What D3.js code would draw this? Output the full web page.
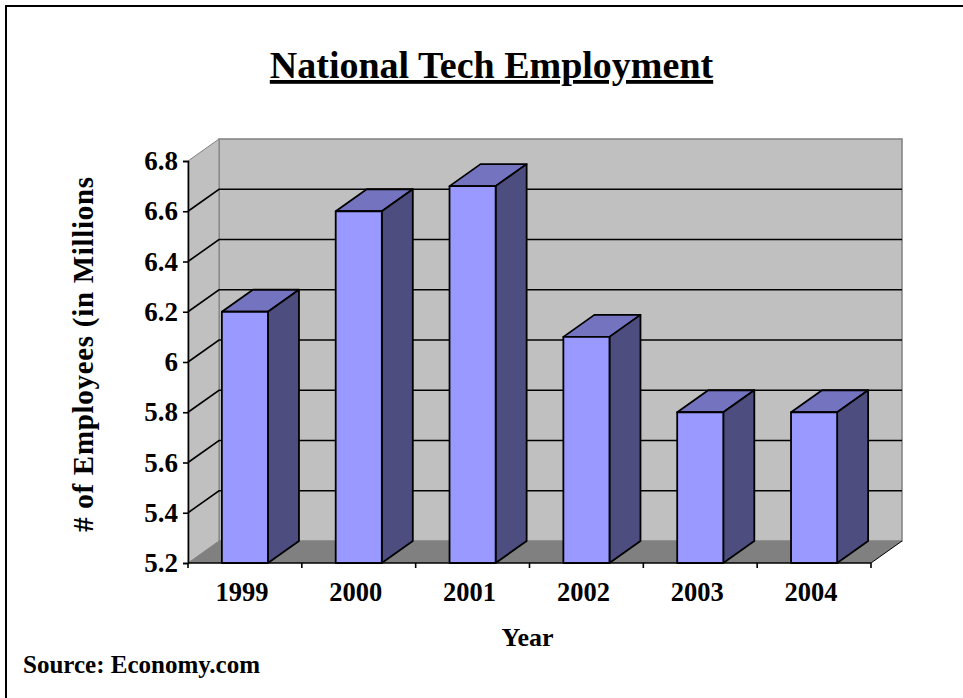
<!DOCTYPE html>
<html>
<head>
<meta charset="utf-8">
<script src="https://cdn.jsdelivr.net/npm/d3@7/dist/d3.min.js"></script>
<style>
html, body { margin: 0; padding: 0; background: #fff; }
svg { display: block; }
text { font-family: "Liberation Serif", "Times New Roman", serif; font-weight: bold; fill: #000; }
</style>
</head>
<body>
<svg id="chart" width="963" height="698"></svg>
<script>
const years = ["1999", "2000", "2001", "2002", "2003", "2004"];
const employees = [6.2, 6.6, 6.7, 6.1, 5.8, 5.8];
const yTicks = [5.2, 5.4, 5.6, 5.8, 6, 6.2, 6.4, 6.6, 6.8];

const svg = d3.select("#chart");
const width = 963, height = 698;

// Page frame: only the top and left edges fall inside the graphic
svg.append("path").attr("d", `M6,${height} V6 H${width}`)
  .attr("fill", "none").attr("stroke", "#000").attr("stroke-width", 2);

// Front plane of the 3D box, plus the receding depth offset
const plotLeft = 188, plotRight = 871, plotBottom = 563, plotTop = 161;
const depthX = 31, depthY = -22;

const x = d3.scaleBand().domain(years).range([plotLeft, plotRight]).paddingInner(0.595).paddingOuter(0.2975);
const y = d3.scaleLinear().domain([5.2, 6.8]).range([plotBottom, plotTop]);
const poly = pts => pts.map(p => p.join(",")).join(" ");

const plot = svg.append("g");

// Back wall
plot.append("rect")
  .attr("x", plotLeft + depthX).attr("y", plotTop + depthY)
  .attr("width", plotRight - plotLeft).attr("height", plotBottom - plotTop)
  .attr("fill", "#c0c0c0").attr("stroke", "#808080").attr("stroke-width", 1.5);

// Left side wall
plot.append("polygon")
  .attr("points", poly([[plotLeft, plotTop], [plotLeft + depthX, plotTop + depthY], [plotLeft + depthX, plotBottom + depthY], [plotLeft, plotBottom]]))
  .attr("fill", "#c0c0c0").attr("stroke", "#808080").attr("stroke-width", 1);

// Floor
plot.append("polygon")
  .attr("points", poly([[plotLeft, plotBottom], [plotLeft + depthX, plotBottom + depthY], [plotRight + depthX, plotBottom + depthY], [plotRight, plotBottom]]))
  .attr("fill", "#808080");

// Gridlines running across the side wall and along the back wall
plot.append("g").selectAll("polyline").data(yTicks.slice(1, -1)).join("polyline")
  .attr("points", d => poly([[plotLeft, y(d)], [plotLeft + depthX, y(d) + depthY], [plotRight + depthX, y(d) + depthY]]))
  .attr("fill", "none").attr("stroke", "#000").attr("stroke-width", 1.6);

// Receding floor edge on the right
plot.append("polyline")
  .attr("points", poly([[plotRight, plotBottom], [plotRight + depthX, plotBottom + depthY]]))
  .attr("stroke", "#000").attr("stroke-width", 1).attr("fill", "none");

// Bars: top face, side face, front face
const bars = plot.append("g").selectAll("g").data(years.map((year, i) => ({ year, value: employees[i] }))).join("g");
const barStroke = sel => sel.attr("stroke", "#000").attr("stroke-width", 1.8).attr("stroke-linejoin", "round");

bars.append("polygon")
  .attr("points", d => {
    const x0 = x(d.year), x1 = x0 + x.bandwidth(), t = y(d.value);
    return poly([[x0, t], [x0 + depthX, t + depthY], [x1 + depthX, t + depthY], [x1, t]]);
  })
  .attr("fill", "#7373bf").call(barStroke);

bars.append("polygon")
  .attr("points", d => {
    const x1 = x(d.year) + x.bandwidth(), t = y(d.value);
    return poly([[x1, t], [x1 + depthX, t + depthY], [x1 + depthX, plotBottom + depthY], [x1, plotBottom]]);
  })
  .attr("fill", "#4d4d80").call(barStroke);

bars.append("rect")
  .attr("x", d => x(d.year)).attr("y", d => y(d.value))
  .attr("width", x.bandwidth()).attr("height", d => plotBottom - y(d.value))
  .attr("fill", "#9999ff").call(barStroke);

// Value axis
const yAxis = d3.axisLeft(y).tickValues(yTicks).tickFormat(d3.format("~g")).tickSize(5).tickPadding(5);
const yG = svg.append("g").attr("transform", `translate(${plotLeft},0)`).call(yAxis);
yG.selectAll("path, line").attr("stroke", "#000").attr("stroke-width", 1.6);
yG.selectAll("text").style("font-size", "27px");

// Category axis: ticks fall on band edges, labels at band centres
const edgeScale = d3.scaleLinear().domain([0, years.length]).range([plotLeft, plotRight]);
const xG = svg.append("g");
xG.append("line").attr("x1", plotLeft).attr("x2", plotRight).attr("y1", plotBottom).attr("y2", plotBottom)
  .attr("stroke", "#000").attr("stroke-width", 1.6);
xG.selectAll("line.tick").data(d3.range(years.length + 1)).join("line").attr("class", "tick")
  .attr("x1", edgeScale).attr("x2", edgeScale).attr("y1", plotBottom).attr("y2", plotBottom + 5)
  .attr("stroke", "#000").attr("stroke-width", 1.6);
xG.selectAll("text").data(years).join("text")
  .attr("x", d => x(d) + x.bandwidth() / 2 - 3).attr("y", 601)
  .attr("text-anchor", "middle").style("font-size", "26.5px").text(d => d);

// Titles and source note
svg.append("text").attr("x", 491.5).attr("y", 78).attr("text-anchor", "middle")
  .style("font-size", "38px").style("text-decoration", "underline").text("National Tech Employment");
svg.append("text").attr("x", 527.5).attr("y", 646).attr("text-anchor", "middle")
  .style("font-size", "26px").text("Year");
svg.append("text").attr("transform", "translate(93,354) rotate(-90)").attr("text-anchor", "middle")
  .style("font-size", "29px").style("letter-spacing", "0.7px").text("# of Employees (in Millions");
svg.append("text").attr("x", 23).attr("y", 673).style("font-size", "25px").text("Source: Economy.com");
</script>
</body>
</html>
